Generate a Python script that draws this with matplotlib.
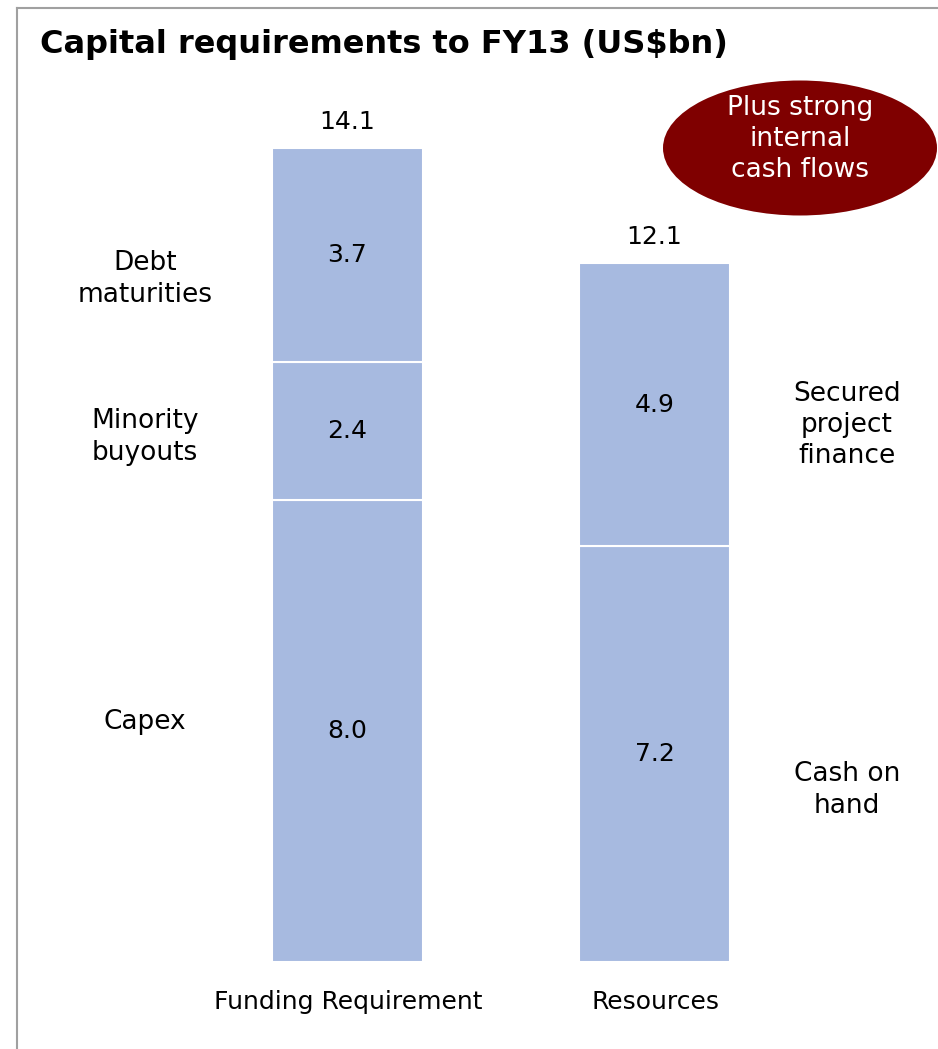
import numpy as np
import matplotlib.pyplot as plt
from matplotlib.patches import Ellipse
from matplotlib.lines import Line2D

# data
categories = ['Funding Requirement', 'Resources']
funding_parts = [8.0, 2.4, 3.7]        # Capex, Minority buyouts, Debt maturities
resource_parts = [7.2, 4.9]            # Cash on hand, Secured project finance
funding_labels = ['Capex', 'Minority\nbuyouts', 'Debt\nmaturities']
resource_labels = ['Cash on\nhand', 'Secured\nproject\nfinance']
title = 'Capital requirements to FY13 (US$bn)'
callout = 'Plus strong\ninternal\ncash flows'

W, H = 938, 1049
fig = plt.figure(figsize=(W / 100, H / 100), dpi=100)
plt.rcParams['font.family'] = ['DejaVu Sans']

# axes laid out in pixel terms
px_per_unit = (962 - 148) / 14.1
ax_left, ax_right, ax_top, ax_bot = 60, 920, 60, 962
ax = fig.add_axes([ax_left / W, 1 - ax_bot / H, (ax_right - ax_left) / W, (ax_bot - ax_top) / H])
c0, c1 = 347, 654.5
unit_x = c1 - c0
ax.set_xlim(-(c0 - ax_left) / unit_x, 1 + (ax_right - c1) / unit_x)
ax.set_ylim(0, (ax_bot - ax_top) / px_per_unit)
ax.axis('off')

bar_color = '#A7BAE0'
width = 151 / unit_x

def stack(x, parts):
    bottom = 0
    for v in parts:
        ax.bar(x, v, width, bottom=bottom, color=bar_color, edgecolor='white', linewidth=1.5)
        ax.text(x, bottom + v / 2, f'{v:.1f}', ha='center', va='center', fontsize=18)
        bottom += v
    ax.text(x, bottom + 0.25, f'{bottom:.1f}', ha='center', va='bottom', fontsize=18)

stack(0, funding_parts)
stack(1, resource_parts)

# side labels (pixel positions)
def px_text(x, y, s, size=19, **kw):
    fig.text(x / W, 1 - y / H, s, ha='center', va='center', fontsize=size,
             linespacing=1.27, **kw)

for (y, s) in zip([722, 437, 279], funding_labels):
    px_text(145, y, s)
for (y, s) in zip([790, 425], resource_labels):
    px_text(847, y, s)

# category labels
for x, s in zip([348, 655], categories):
    px_text(x, 1002, s, size=18)

# title
fig.text(40 / W, 1 - 44 / H, title, ha='left', va='center', fontsize=23, fontweight='bold')

# callout ellipse
e = Ellipse((800 / W, 1 - 148 / H), 274 / W, 135 / H, transform=fig.transFigure,
            facecolor='#7F0000', edgecolor='none')
fig.patches.append(e)
fig.text(800 / W, 1 - 139 / H, callout, ha='center', va='center', fontsize=19,
         color='white', linespacing=1.27)

# frame
fig.lines.append(Line2D([17 / W, 17 / W], [0, 1 - 8 / H], transform=fig.transFigure,
                        color='#A0A0A0', linewidth=1.5))
fig.lines.append(Line2D([17 / W, 1], [1 - 8 / H, 1 - 8 / H], transform=fig.transFigure,
                        color='#A0A0A0', linewidth=1.5))

fig.savefig('out.png', dpi=100, facecolor='white')
